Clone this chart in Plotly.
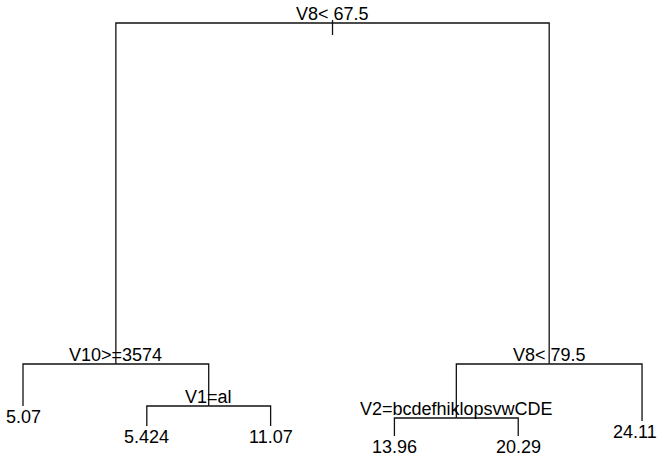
import plotly.graph_objects as go

# Tree structure (rpart-style regression tree)
node_labels = ["V8< 67.5", "V10>=3574", "5.07", "V1=al", "5.424", "11.07",
               "V8< 79.5", "V2=bcdefhiklopsvwCDE", "13.96", "20.29", "24.11"]
node_parent = [None, 0, 1, 1, 3, 3, 0, 6, 7, 7, 6]
node_is_leaf = [False, False, True, False, True, True, False, False, True, True, True]
# relative node heights (root = 1)
node_height = [1.0, 0.2197, 0.1236, 0.1236, 0.0778, 0.0778,
               0.2197, 0.0961, 0.0549, 0.0549, 0.0892]

n = len(node_labels)
children = {i: [] for i in range(n)}
for i, p in enumerate(node_parent):
    if p is not None:
        children[p].append(i)

# leaf x = order 1..k, internal x = mean of children
xpos = [None] * n
counter = [0]

def place(i):
    if node_is_leaf[i]:
        counter[0] += 1
        xpos[i] = counter[0]
    else:
        for c in children[i]:
            place(c)
        xpos[i] = sum(xpos[c] for c in children[i]) / len(children[i])

place(0)
n_leaves = counter[0]

xs, ys = [], []
for i, p in enumerate(node_parent):
    if p is None:
        continue
    xs += [xpos[i], xpos[i], xpos[p], None]
    ys += [node_height[i], node_height[p], node_height[p], None]

# small root stub
stub = 0.0275
xs += [xpos[0], xpos[0], None]
ys += [node_height[0] + stub * 0.25, node_height[0] - stub, None]

fig = go.Figure()
fig.add_trace(go.Scatter(x=xs, y=ys, mode="lines",
                         line=dict(color="#111111", width=1.3),
                         hoverinfo="skip", showlegend=False))

font = dict(family="Liberation Sans, Arial, sans-serif", size=18, color="black")
for i in range(n):
    if node_is_leaf[i]:
        if xpos[i] == n_leaves:
            # rightmost label is kept inside the device edge
            fig.add_annotation(x=1, xref="paper", y=node_height[i], text=node_labels[i],
                               showarrow=False, xanchor="right", yanchor="top",
                               yshift=1, font=font)
        else:
            fig.add_annotation(x=xpos[i], y=node_height[i], text=node_labels[i],
                               showarrow=False, xanchor="center", yanchor="top",
                               yshift=1, font=font)
    else:
        fig.add_annotation(x=xpos[i], y=node_height[i], text=node_labels[i],
                           showarrow=False, xanchor="center", yanchor="bottom",
                           yshift=-3, font=font)

fig.update_layout(
    width=659, height=460,
    margin=dict(l=0, r=0, t=0, b=0),
    plot_bgcolor="white", paper_bgcolor="white",
    xaxis=dict(range=[0.8142, 6.137], visible=False, fixedrange=True),
    yaxis=dict(range=[0, 1.0526], visible=False, fixedrange=True),
)

fig.write_html("out.html")
